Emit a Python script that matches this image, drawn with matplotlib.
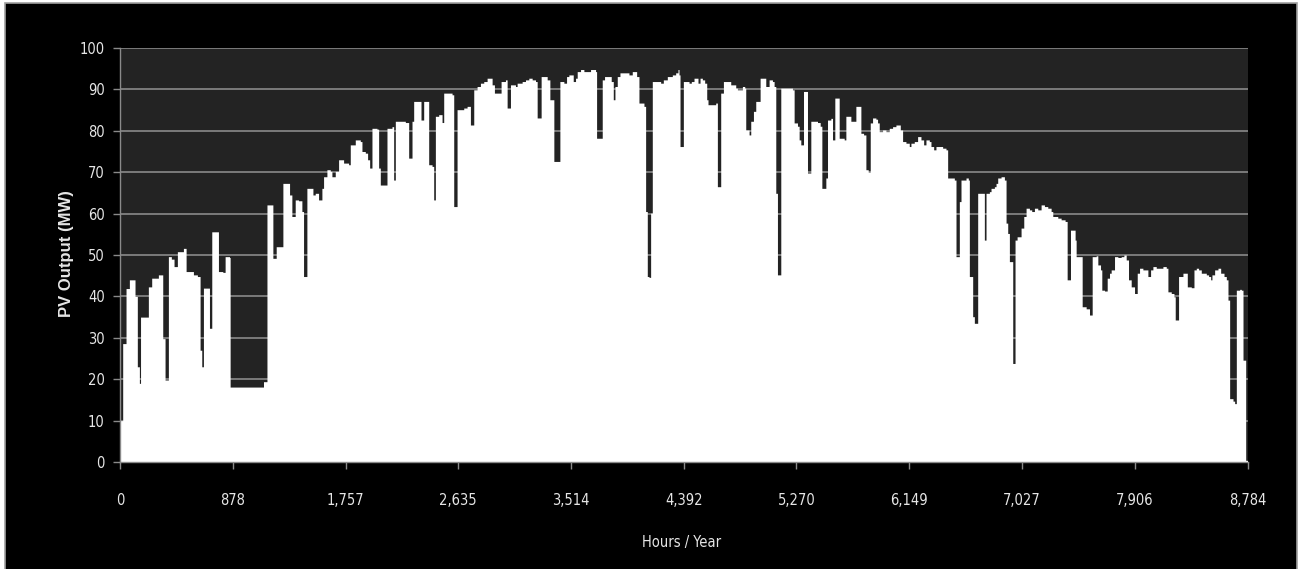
import os
import numpy as np
import matplotlib.pyplot as plt
from matplotlib import font_manager
from matplotlib.patches import Rectangle

# envelope of hourly PV output (hour of year, MW)
hours = [0, 3, 21, 47, 73, 104, 117, 135, 151, 160, 203, 221, 247, 299, 325, 333, 351,
         377, 400, 421, 447, 494, 515, 550, 572, 603, 624, 637, 650, 681, 697, 715, 749,
         767, 801, 819, 853, 858, 962, 1118, 1139, 1145, 1175, 1191, 1217, 1248, 1269,
         1305, 1321, 1339, 1365,
         1391, 1417, 1430, 1451, 1456, 1487, 1503, 1521, 1547, 1573, 1586, 1612, 1638,
         1651, 1677, 1703, 1729, 1742, 1781, 1794, 1833, 1872, 1885, 1911, 1929, 1945,
         1955, 1963, 2002, 2015, 2028, 2067, 2080, 2119, 2132, 2145, 2223, 2236, 2249,
         2262, 2275, 2288, 2327, 2345, 2366, 2392, 2405, 2431, 2444, 2457, 2483, 2509,
         2522, 2587, 2600, 2613, 2626, 2678, 2704, 2730, 2743, 2756, 2782, 2808, 2834,
         2860,
         2899, 2917, 2951, 2969, 3003, 3016, 3029, 3042, 3081, 3094, 3133, 3159, 3185,
         3211, 3237, 3250, 3271, 3281, 3307, 3328, 3349, 3367, 3380, 3411, 3427, 3458,
         3479, 3497, 3515, 3531, 3549, 3562, 3588, 3614, 3666, 3705, 3713, 3744, 3757,
         3775, 3809, 3827, 3843, 3856, 3874, 3895, 3921, 3965, 3991, 4009, 4025, 4043,
         4061, 4082, 4095, 4108, 4121, 4134, 4147, 4173, 4212, 4233, 4264, 4303, 4329,
         4347, 4355, 4363, 4376,
         4389, 4433, 4451, 4472, 4493, 4503, 4519, 4537, 4555, 4571, 4581, 4641, 4654,
         4667, 4680, 4701, 4719, 4758, 4797, 4810, 4849, 4867, 4875, 4901, 4914, 4935,
         4953, 4971, 4987, 5018, 5031, 5044, 5057, 5083, 5096, 5109, 5122, 5135, 5148,
         5200, 5239, 5252, 5278, 5291, 5304, 5325, 5343, 5356, 5369, 5382, 5434, 5455,
         5468, 5486, 5499, 5512, 5538, 5551, 5569, 5590, 5603, 5642, 5655, 5694, 5715,
         5733, 5759, 5772, 5793, 5811, 5829,
         5845, 5863, 5889, 5902, 5915, 5941, 5967, 5993, 6019, 6045, 6063, 6079, 6097,
         6123, 6149, 6162, 6188, 6214, 6240, 6261, 6279, 6305, 6318, 6339, 6357, 6383,
         6409, 6435, 6448, 6487, 6500, 6513, 6526, 6539, 6552, 6591, 6609, 6617, 6643,
         6656, 6669, 6682, 6721, 6734, 6747, 6773, 6786, 6812, 6825, 6838, 6864, 6890,
         6903, 6916, 6929, 6942, 6955, 6968, 6973, 6989, 7007, 7020, 7041, 7059, 7085,
         7103, 7124, 7150, 7176, 7202, 7228, 7254, 7267, 7280, 7306,
         7332, 7363, 7379, 7397, 7405, 7431, 7441, 7449, 7483, 7496, 7527, 7553, 7566,
         7574, 7605, 7618, 7639, 7649, 7670, 7691, 7709, 7722, 7735, 7748, 7774, 7800,
         7821, 7839, 7857, 7878, 7904, 7925, 7943, 7969, 7990, 8008, 8029, 8047, 8073,
         8099, 8125, 8151, 8164, 8190, 8211, 8221, 8237, 8247, 8281, 8299, 8315, 8346,
         8367, 8385, 8403, 8424, 8445, 8463, 8481, 8497, 8507, 8528, 8554, 8575, 8601,
         8619, 8632, 8645, 8671, 8684, 8697, 8723, 8736, 8749, 8762, 8770, 8784]

pv_mw = [0, 10, 28.6, 41.9, 44, 44, 40, 23, 19, 35, 35, 42.3, 44.4, 45.2, 45.2, 29.8, 19.8,
         49.6, 49, 47.2, 50.8, 51.6, 46, 46, 45.2, 44.8, 27, 23, 42, 42, 32.3, 55.6, 55.6,
         46, 45.8, 49.6, 49.4, 18.1, 18.1, 19.4, 19.4, 62.1, 62.1, 49.2, 52, 52, 67.3,
         67.3, 64.5, 59.3, 63.3,
         63.1, 60.5, 44.8, 44.8, 66.1, 66.1, 64.5, 64.9, 63.3, 66.1, 68.9, 70.6, 70.2,
         68.9, 70.2, 73, 73, 72.2, 71.8, 76.6, 77.8, 77.4, 75, 74.6, 73, 71,
         71, 80.6, 80.4, 71, 66.9, 66.9, 80.6, 81, 68.1, 82.3, 82, 82, 73.4,
         73.4, 82.3, 87.1, 87.1, 82.6, 87.1, 87.1, 71.8, 71.4, 63.3, 83.5, 83.9, 82,
         89.1, 88.7, 61.7, 61.7, 85.1, 85.5, 85.9, 81.4, 81.4, 89.9, 90.7, 91.5, 91.9,
         92.7,
         91.1, 89.1, 89.1, 91.9, 92.3, 85.5, 85.5, 91.1, 90.7, 91.5, 91.9, 92.3, 92.7,
         92.3, 91.9, 83.1, 83.1, 93.1, 93.1, 92.3, 87.5, 87.5, 72.6, 72.6, 91.9, 91.5,
         93.1, 93.5, 93.5, 91.9, 92.7, 94.3, 94.8, 94.3, 94.8, 94.3, 78.2, 78.2, 92.3,
         93.1, 93.1, 91.9, 87.5, 90.7, 93.1, 94, 94, 93.5, 94.3, 94.3, 93.1, 86.7,
         86.7, 85.9, 60.5, 44.8, 44.6, 60.1, 91.9, 91.9, 91.5, 92.3, 93.1, 93.5, 94,
         94.8, 93.5, 76.2, 76.2,
         91.9, 91.5, 91.9, 92.7, 92.7, 91.5, 92.7, 92.3, 91.5, 87.5, 86.3, 86.7, 66.5,
         66.5, 89.1, 91.9, 91.9, 91.1, 90.3, 89.9, 90.7, 90.3, 80.2, 79, 82.3, 84.7,
         87.1, 87.1, 92.7, 92.7, 90.7, 90.7, 92.3, 91.9, 90.7, 64.9, 45.2, 45.2, 90.3,
         90.3, 89.9, 81.9, 81.1, 77.8, 76.6, 89.5, 89.5, 69.8, 69.8, 82.3, 82, 81.1,
         66.1, 66.1, 68.6, 82.6, 83, 77.8, 87.9, 87.9, 78.2, 77.8, 83.5, 82.3, 82.3,
         85.9, 85.9, 79.4, 79, 70.6, 70,
         81.9, 83.1, 82.8, 81.9, 79.8, 80.2, 79.8, 80.6, 81, 81.4, 81.4, 80.2, 77.4,
         77, 76.2, 77, 77.4, 78.6, 77.8, 76.6, 77.8, 77.4, 76.2, 75.4, 76.2, 76.2,
         75.8, 75.4, 68.6, 68.6, 68.1, 49.6, 49.6, 62.9, 68.1, 68.6, 68.1, 44.8, 35.1,
         33.5, 33.5, 64.9, 64.9, 53.6, 64.9, 65.3, 66.1, 66.5, 67.3, 68.6, 68.9, 68.1,
         57.7, 55.2, 48.4, 48.4, 23.8, 23.8, 53.6, 54.4, 54.4, 56.5, 59.3, 61.3, 60.9,
         60.5, 61.3, 60.9, 62.1, 61.7, 61.3, 60.5, 59.3, 59.3, 58.9,
         58.5, 58.1, 44, 44, 56, 56, 53.6, 49.6, 49.6, 37.5, 37, 35.5, 35.5,
         49.6, 49.8, 47.6, 46.4, 41.5, 41.3, 44.4, 45.6, 46.4, 46.4, 49.6, 49.4, 49.6,
         50, 48.8, 44, 42.3, 40.7, 45.6, 46.8, 46.4, 46.4, 44.8, 46.4, 47.2, 46.8,
         46.8, 47.2, 46.8, 41.1, 40.7, 39.9, 34.3, 34.3, 44.8, 45.6, 45.6, 42.3, 42.1,
         46.4, 46.8, 46.4, 45.6, 45.6, 45.2, 44.8, 44, 45.2, 46.4, 46.8, 45.6, 44.8,
         44, 39.1, 15.3, 14.7, 14.1, 41.5, 41.7, 41.5, 24.6, 24.6, 0.4, 0]

xtick_labels = ["0", "878", "1,757", "2,635", "3,514", "4,392", "5,270",
                "6,149", "7,027", "7,906", "8,784"]


def narrow_font(size):
    # look for a condensed/narrow regular face; fall back to DejaVu Sans
    files = [f.fname for f in font_manager.fontManager.ttflist]
    for key in ["LiberationSansNarrow-Regular", "DejaVuSansCondensed.", "Condensed-Regular",
                "Narrow-Regular"]:
        for fn in files:
            if key in os.path.basename(fn):
                return font_manager.FontProperties(fname=fn, size=size)
    return font_manager.FontProperties(family="DejaVu Sans", size=size - 1.5)


W, H = 1304, 569
fig = plt.figure(figsize=(W / 100, H / 100), dpi=100, facecolor="white")

# black chart area with thin gray frame, kept behind the axes
fig.patches.append(Rectangle((4.5 / W, -0.02), (1296.5 - 4.5) / W, 1.02 - 3.5 / H,
                             transform=fig.transFigure, facecolor="black",
                             edgecolor="#a0a0a0", lw=1.2, zorder=-10))

ax = fig.add_axes([120 / W, 1 - 462 / H, 1127.5 / W, 414 / H])
ax.set_zorder(5)
ax.set_facecolor("#232323")
ax.fill_between(hours, pv_mw, step="post", color="white", lw=0, zorder=2)

ax.set_xlim(0, 8784)
ax.set_ylim(0, 100)
ax.set_yticks(np.arange(0, 101, 10))
ax.set_xticks(np.linspace(0, 8784, 11))
ax.set_xticklabels(xtick_labels)
ax.grid(axis="y", color="#8a8a8a", lw=1.2, zorder=1)
ax.set_axisbelow(True)

for s in ["top", "right"]:
    ax.spines[s].set_visible(False)
for s in ["left", "bottom"]:
    ax.spines[s].set_color("#8a8a8a")
    ax.spines[s].set_linewidth(1.0)
    ax.spines[s].set_zorder(3)

fp = narrow_font(10.5)
ax.tick_params(axis="y", colors="#8a8a8a", length=5, width=1.0, pad=6,
               labelcolor="#e6e6e6")
ax.tick_params(axis="x", colors="#8a8a8a", length=5, width=1.0, pad=17,
               labelcolor="#e6e6e6")
for lab in ax.get_xticklabels() + ax.get_yticklabels():
    lab.set_fontproperties(fp)

ax.set_xlabel("Hours / Year", color="#e6e6e6", fontproperties=fp, va="center")
ax.xaxis.set_label_coords((682 - 120) / 1127.5, (462 - 542) / 414)
ax.set_ylabel("PV Output (MW)", color="#e6e6e6", fontsize=12, fontweight="bold",
              family=["Liberation Sans", "DejaVu Sans"], va="center")
ax.yaxis.set_label_coords((67 - 120) / 1127.5, (462 - 254) / 414)

fig.savefig("out.png", dpi=100, facecolor=fig.get_facecolor())
